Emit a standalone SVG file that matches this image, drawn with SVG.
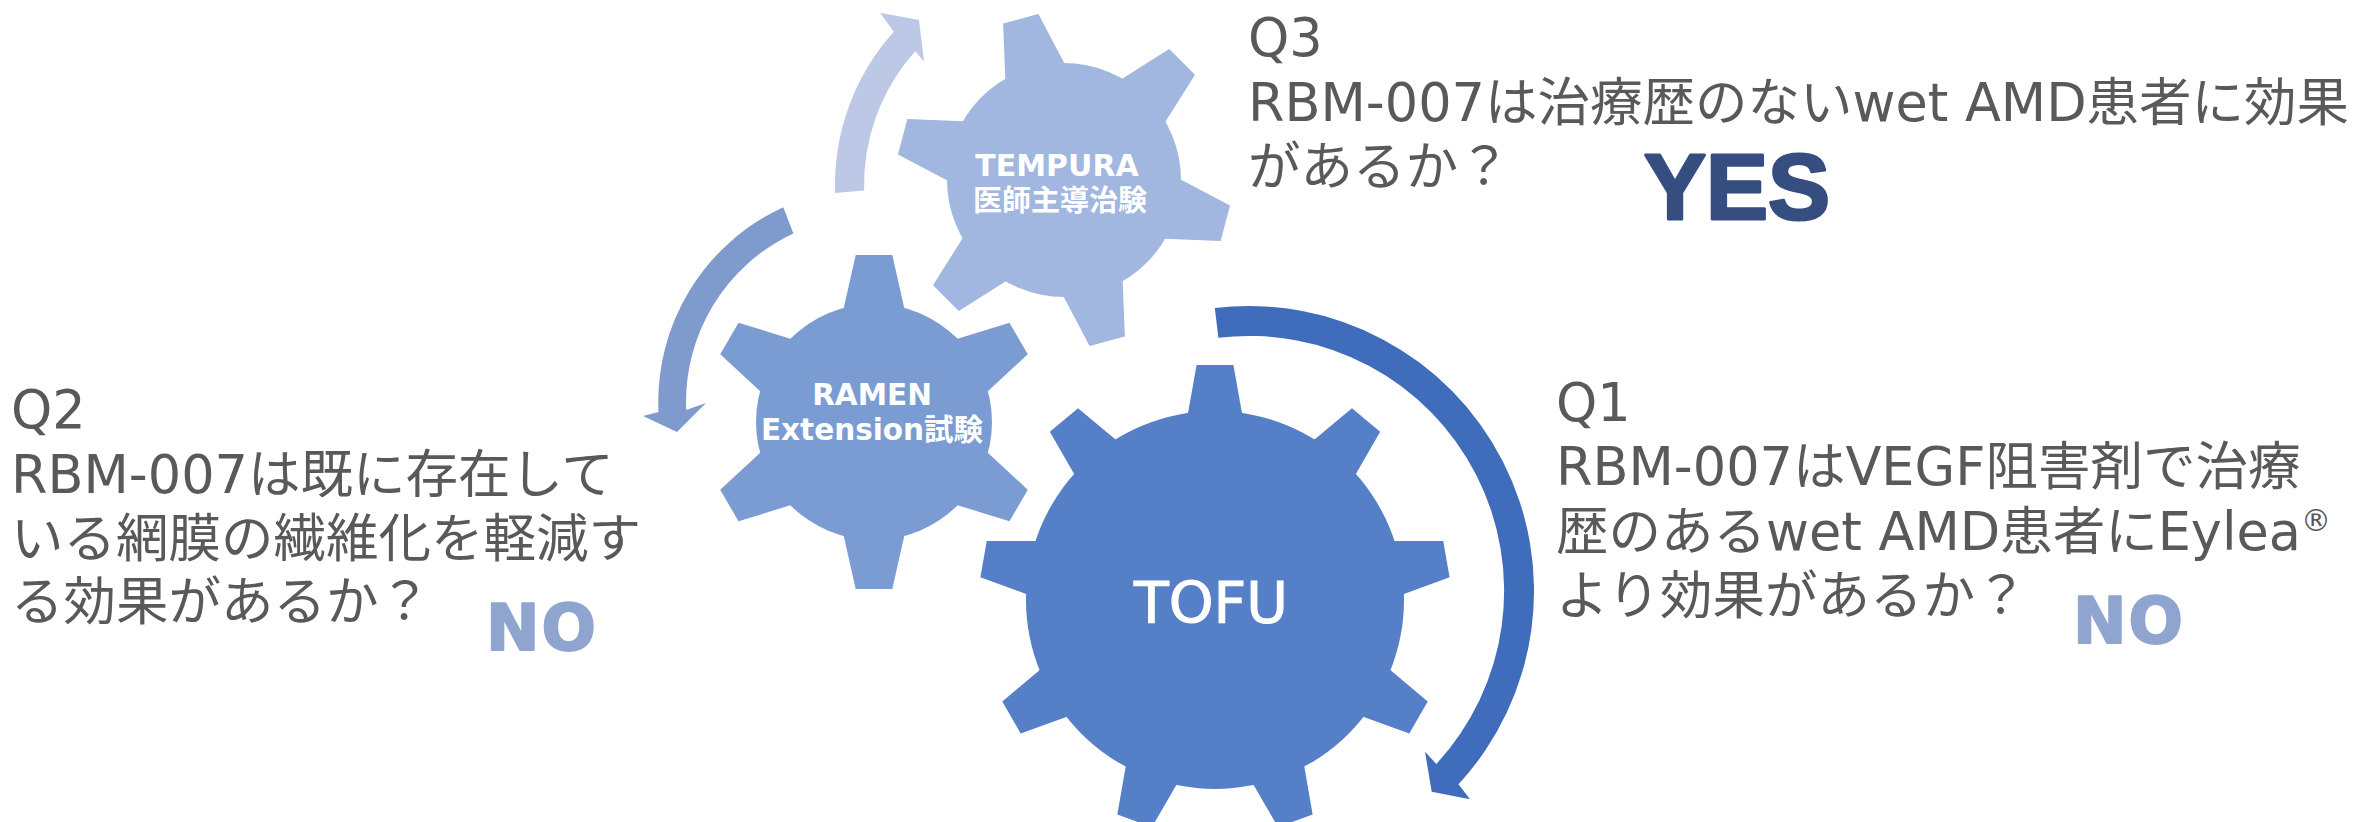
<svg xmlns="http://www.w3.org/2000/svg" xmlns:xlink="http://www.w3.org/1999/xlink" width="2364" height="822" viewBox="0 0 2364 822">
<style>
.q { font-family: 'DejaVu Sans', 'Noto Sans CJK JP', sans-serif; font-size: 52.5px; fill: #595959; }
.lbl { font-family: 'DejaVu Sans', 'Noto Sans CJK JP', sans-serif; font-weight: bold; fill: #ffffff; text-anchor: middle; }
.big { font-family: 'DejaVu Sans', 'Noto Sans CJK JP', sans-serif; font-weight: bold; text-anchor: middle; stroke-linejoin: round; }
.yes { font-family: 'Liberation Sans', Arial, sans-serif; font-weight: bold; text-anchor: middle; fill: #364d80; stroke: #364d80; stroke-width: 3; stroke-linejoin: round; }
.no { fill: #8fa5d0; stroke: #8fa5d0; stroke-width: 2; }
</style>
<defs>
  <path id="toothS" d="M-33.4,-100 L-18.3,-167 L18.3,-167 L33.4,-100 Z"/>
  <path id="toothL" d="M-30,-170 L-18.4,-235 L18.4,-235 L30,-170 Z"/>
</defs>
<rect width="2364" height="822" fill="#ffffff"/>

<g id="connectors">
  <path id="arrow-tempura" fill="#bcc8e5" d="M835.1,193 A229,229 0 0 1 893.8,31.8 L880,12.7 L919,20 L924,61.7 L915.4,51.2 A200,200 0 0 0 864.1,190.6 Z"/>
  <path id="arrow-ramen" fill="#7f9bcd" d="M783.3,207.3 A214,214 0 0 0 658.5,412 L643,416 L677,432 L706,403 L686.2,410 A186,186 0 0 1 793.4,233.4 Z"/>
  <path id="arrow-tofu" fill="#3f6dbb" d="M1214.8,308.1 A285,285 0 0 1 1458.5,784.3 L1470,799.3 L1431.7,791.7 L1425,751.7 L1436.4,764 A255,255 0 0 0 1218.4,337.8 Z"/>
</g>

<g id="gear-tempura">
  <g fill="#a1b7df" transform="translate(1064,180)">
    <circle r="117"/>
    <use xlink:href="#toothS" href="#toothS" transform="rotate(45)"/>
    <use xlink:href="#toothS" href="#toothS" transform="rotate(105)"/>
    <use xlink:href="#toothS" href="#toothS" transform="rotate(165)"/>
    <use xlink:href="#toothS" href="#toothS" transform="rotate(225)"/>
    <use xlink:href="#toothS" href="#toothS" transform="rotate(285)"/>
    <use xlink:href="#toothS" href="#toothS" transform="rotate(345)"/>
  </g>
  <text class="lbl" x="1057" y="176" font-size="30">TEMPURA</text>
  <text class="lbl" x="1060" y="211" font-size="29">医師主導治験</text>
</g>

<g id="gear-ramen">
  <g fill="#7a9cd3" transform="translate(874,422)">
    <circle r="118"/>
    <use xlink:href="#toothS" href="#toothS" transform="rotate(0)"/>
    <use xlink:href="#toothS" href="#toothS" transform="rotate(60)"/>
    <use xlink:href="#toothS" href="#toothS" transform="rotate(120)"/>
    <use xlink:href="#toothS" href="#toothS" transform="rotate(180)"/>
    <use xlink:href="#toothS" href="#toothS" transform="rotate(240)"/>
    <use xlink:href="#toothS" href="#toothS" transform="rotate(300)"/>
  </g>
  <text class="lbl" x="872" y="405" font-size="29.5">RAMEN</text>
  <text class="lbl" x="872" y="440" font-size="29.5">Extension試験</text>
</g>

<g id="gear-tofu">
  <g fill="#557fc6" transform="translate(1215,600)">
    <circle r="189"/>
    <use xlink:href="#toothL" href="#toothL" transform="rotate(0)"/>
    <use xlink:href="#toothL" href="#toothL" transform="rotate(40)"/>
    <use xlink:href="#toothL" href="#toothL" transform="rotate(80)"/>
    <use xlink:href="#toothL" href="#toothL" transform="rotate(120)"/>
    <use xlink:href="#toothL" href="#toothL" transform="rotate(160)"/>
    <use xlink:href="#toothL" href="#toothL" transform="rotate(200)"/>
    <use xlink:href="#toothL" href="#toothL" transform="rotate(240)"/>
    <use xlink:href="#toothL" href="#toothL" transform="rotate(280)"/>
    <use xlink:href="#toothL" href="#toothL" transform="rotate(320)"/>
  </g>
  <text x="1211" y="623" font-size="57" font-family="'DejaVu Sans', sans-serif" fill="#ffffff" stroke="#ffffff" stroke-width="1" text-anchor="middle">TOFU</text>
</g>

<g id="q3">
  <text class="q" x="1248" y="56">Q3</text>
  <text class="q" x="1248" y="121">RBM-007は治療歴のないwet AMD患者に効果</text>
  <text class="q" x="1248" y="185">があるか？</text>
  <text class="yes" x="1737" y="219" font-size="93">YES</text>
</g>

<g id="q2">
  <text class="q" x="11" y="428">Q2</text>
  <text class="q" x="11" y="493">RBM-007は既に存在して</text>
  <text class="q" x="11" y="557">いる網膜の繊維化を軽減す</text>
  <text class="q" x="11" y="620">る効果があるか？</text>
  <text class="big no" x="542" y="650" font-size="64" letter-spacing="2">NO</text>
</g>

<g id="q1">
  <text class="q" x="1556" y="421">Q1</text>
  <text class="q" x="1556" y="485">RBM-007はVEGF阻害剤で治療</text>
  <text class="q" x="1556" y="550">歴のあるwet AMD患者にEylea<tspan font-size="30" dy="-19">®</tspan></text>
  <text class="q" x="1556" y="614">より効果があるか？</text>
  <text class="big no" x="2129" y="643" font-size="64" letter-spacing="2">NO</text>
</g>
</svg>
